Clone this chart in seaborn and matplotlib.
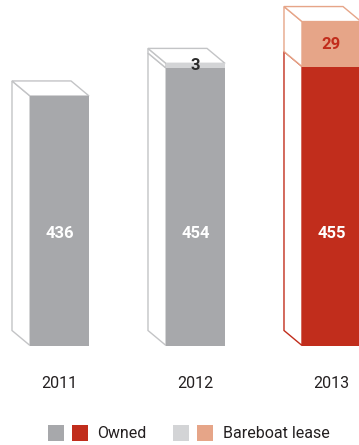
import matplotlib
matplotlib.use("Agg")
import matplotlib.pyplot as plt
from matplotlib.patches import Polygon, Rectangle
import pandas as pd
import seaborn as sns

# Fleet size by year (vessels)
years = ["2011", "2012", "2013"]
owned = [436, 454, 455]
bareboat = [0, 3, 29]

owned_colors = ["#a7a8ab", "#a7a8ab", "#c12d1c"]
lease_colors = ["#d3d4d6", "#d3d4d6", "#e6a588"]
edge_owned = ["#c3c4c6", "#c3c4c6", "#c12d1c"]
edge_lease = ["#c3c4c6", "#c3c4c6", "#e6a588"]
lease_text = ["#2b2b2b", "#2b2b2b", "#c12d1c"]

totals = [o + b for o, b in zip(owned, bareboat)]
df = pd.DataFrame({"year": years, "owned": owned, "total": totals})

sns.set_theme(style="white")
plt.rcParams["font.family"] = ["Roboto", "DejaVu Sans"]

W, H = 359, 445
fig = plt.figure(figsize=(W / 100, H / 100), dpi=100)
base_px = 345.5
ax = fig.add_axes([0, (H - base_px) / H, 1, base_px / H])

BAR_W = 0.434
sns.barplot(data=df, x="year", y="total", hue="year", palette=lease_colors,
            width=BAR_W, legend=False, ax=ax, linewidth=0, saturation=1)
sns.barplot(data=df, x="year", y="owned", hue="year", palette=owned_colors,
            width=BAR_W, legend=False, ax=ax, linewidth=0, saturation=1)

# axis scale: baseline value and pixels per unit
y0 = 275.0
ppu = 1.55
ax.set_ylim(y0, y0 + base_px / ppu)
ppx = 136.0
ax.set_xlim(-59.5 / ppx, (W - 59.5) / ppx)

# box depth in data units
dx = 18 / ppx
dy = 15 / ppu
lw = 1.0

for i in range(len(years)):
    xl = i - BAR_W / 2
    xr = i + BAR_W / 2
    o, t = owned[i], totals[i]
    lower = [(xl, y0), (xl, o), (xl - dx, o + dy), (xl - dx, y0 + dy)]
    ax.add_patch(Polygon(lower, closed=True, facecolor="white",
                         edgecolor=edge_owned[i], lw=lw, zorder=0.5, clip_on=False))
    top_edge = edge_owned[i]
    if bareboat[i] > 0:
        upper = [(xl, o), (xl, t), (xl - dx, t + dy), (xl - dx, o + dy)]
        ax.add_patch(Polygon(upper, closed=True, facecolor="white",
                             edgecolor=edge_lease[i], lw=lw, zorder=0.6, clip_on=False))
        top_edge = edge_lease[i]
    top = [(xl, t), (xr, t), (xr - dx, t + dy), (xl - dx, t + dy)]
    ax.add_patch(Polygon(top, closed=True, facecolor="white",
                         edgecolor=top_edge, lw=lw, zorder=0.6, clip_on=False))

    # value labels
    ax.text(i, y0 + (base_px - 233) / ppu, str(o), ha="center", va="center",
            color="white", fontsize=12, fontweight="bold", zorder=5)
    if bareboat[i] > 0:
        ax.text(i, (o + t) / 2, str(bareboat[i]), ha="center", va="center",
                color=lease_text[i], fontsize=12, fontweight="bold", zorder=5)

ax.set_xlabel("")
ax.set_ylabel("")
ax.set_yticks([])
ax.tick_params(axis="x", length=0, pad=22, labelsize=11.5, labelcolor="#231f20")
for s in ax.spines.values():
    s.set_visible(False)

# legend: paired swatches per category
def swatch(px, color):
    fig.add_artist(Rectangle((px / W, 1 - 441 / H), 16 / W, 16 / H,
                             transform=fig.transFigure, facecolor=color,
                             edgecolor="none"))

swatch(48, owned_colors[0])
swatch(72, owned_colors[2])
fig.text(97 / W, 1 - 433 / H, "Owned", ha="left", va="center",
         fontsize=11.5, color="#231f20")
swatch(173, lease_colors[0])
swatch(197, lease_colors[2])
fig.text(223 / W, 1 - 433 / H, "Bareboat lease", ha="left", va="center",
         fontsize=11.5, color="#231f20")

fig.savefig("out.png", dpi=100)
